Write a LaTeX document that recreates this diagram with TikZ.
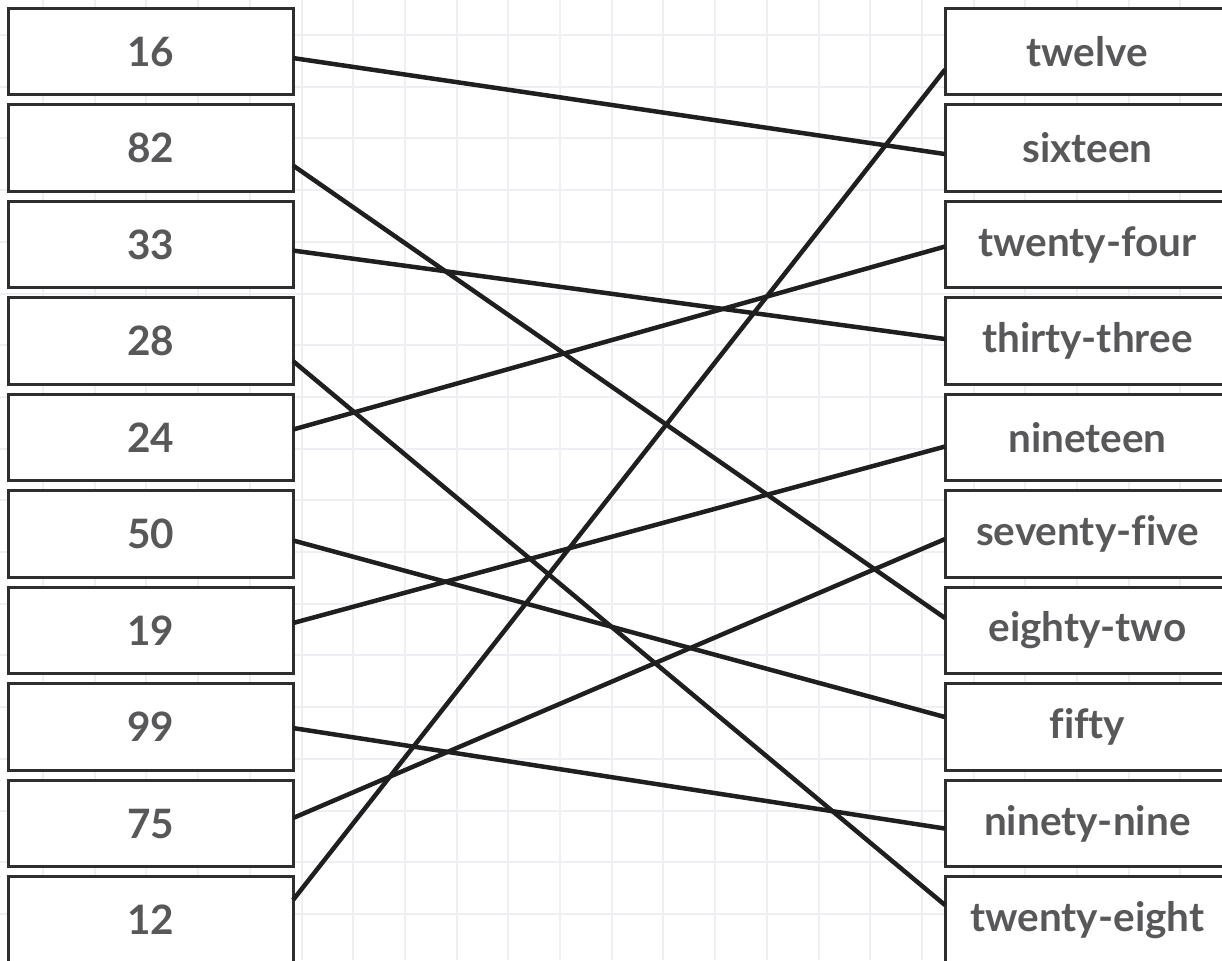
\documentclass[tikz,border=0pt]{standalone}
\usepackage{fontspec}
\setmainfont{Lato}[Ligatures=NoCommon]
\usetikzlibrary{positioning}

\definecolor{gridgray}{HTML}{EEEFF2}
\definecolor{boxline}{HTML}{2E2E2E}
\definecolor{labelgray}{HTML}{58585A}

\begin{document}
\begin{tikzpicture}[x=1pt,y=-1pt,node distance=10pt,
  card/.style={draw=boxline,line width=3pt,fill=white,outer sep=0pt,inner sep=0pt,
    minimum width=284.7pt,minimum height=86.5pt,text=labelgray,
    font=\fontsize{40.5}{40.5}\selectfont\bfseries},
  gridline/.style={draw=gridgray,line width=2pt},
  match/.style={draw=black!88,line width=4.5pt}]
  \useasboundingbox (0,0) rectangle (1222,960);
  \clip (0,0) rectangle (1222,960);

  \foreach \i in {0,...,24} \draw[gridline] ({-8.7+51.7*\i},0) -- ({-8.7+51.7*\i},960);
  \foreach \j in {0,...,19} \draw[gridline] (0,{-16.7+51.7*\j}) -- (1222,{-16.7+51.7*\j});

  \node[card] (n16) at (150.65,51.55) {16};
  \node[card] (n82) [below=of n16] {82};
  \node[card] (n33) [below=of n82] {33};
  \node[card] (n28) [below=of n33] {28};
  \node[card] (n24) [below=of n28] {24};
  \node[card] (n50) [below=of n24] {50};
  \node[card] (n19) [below=of n50] {19};
  \node[card] (n99) [below=of n19] {99};
  \node[card] (n75) [below=of n99] {75};
  \node[card] (n12) [below=of n75] {12};

  \node[card] (w12) [right=652pt of n16] {twelve};
  \node[card] (w16) [below=of w12] {sixteen};
  \node[card] (w24) [below=of w16] {twenty-four};
  \node[card] (w33) [below=of w24] {thirty-three};
  \node[card] (w19) [below=of w33] {nineteen};
  \node[card] (w75) [below=of w19] {seventy-five};
  \node[card] (w82) [below=of w75] {eighty-two};
  \node[card] (w50) [below=of w82] {fifty};
  \node[card] (w99) [below=of w50] {ninety-nine};
  \node[card] (w28) [below=of w99] {twenty-eight};

  \draw[match] ([yshift=-6.5pt]n16.east) -- ([yshift=-6pt]w16.west);
  \draw[match] ([yshift=-17.4pt]n82.east) -- ([yshift=12.5pt]w82.west);
  \draw[match] ([yshift=-6pt]n33.east) -- ([yshift=2pt]w33.west);
  \draw[match] ([yshift=-20pt]n28.east) -- ([yshift=15pt]w28.west);
  \draw[match] ([yshift=8pt]n24.east) -- ([yshift=-2pt]w24.west);
  \draw[match] ([yshift=-6.4pt]n50.east) -- ([yshift=10pt]w50.west);
  \draw[match] ([yshift=7.5pt]n19.east) -- ([yshift=-9pt]w19.west);
  \draw[match] ([yshift=-1pt]n99.east) -- ([yshift=-5pt]w99.west);
  \draw[match] ([yshift=5.5pt]n75.east) -- ([yshift=-5pt]w75.west);
  \draw[match] ([yshift=20pt]n12.east) -- ([yshift=-18pt]w12.west);
\end{tikzpicture}
\end{document}
